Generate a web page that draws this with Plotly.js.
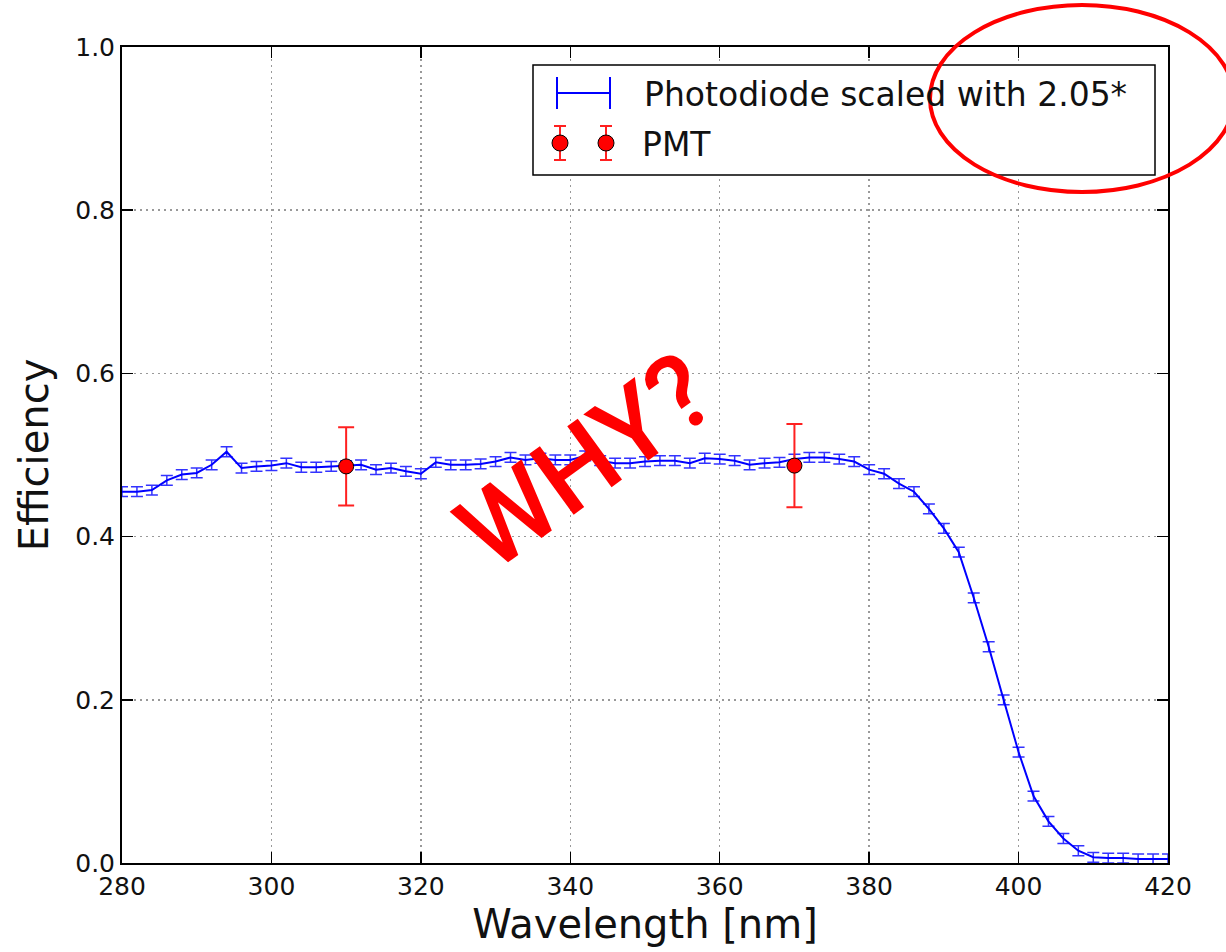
<!DOCTYPE html>
<html>
<head>
<meta charset="utf-8">
<script src="https://cdn.plot.ly/plotly-3.0.1.min.js"></script>
<style>html,body{margin:0;padding:0;background:#fff;}#chart{width:1226px;height:952px;}</style>
</head>
<body>
<div id="chart"></div>
<script>
// Photodiode (scaled with 2.05) efficiency vs wavelength
const wavelength = [280,282,284,286,288,290,292,294,296,298,300,302,304,306,308,310,312,314,316,318,
  320,322,324,326,328,330,332,334,336,338,340,342,344,346,348,350,352,354,356,358,
  360,362,364,366,368,370,372,374,376,378,380,382,384,386,388,390,392,394,396,398,
  400,402,404,406,408,410,412,414,416,418,420];
const photodiode = [0.455,0.455,0.457,0.469,0.476,0.478,0.488,0.504,0.484,0.486,0.487,0.490,0.485,0.485,0.486,0.487,0.488,0.482,0.484,0.480,
  0.477,0.491,0.488,0.488,0.489,0.492,0.497,0.494,0.496,0.494,0.494,0.499,0.493,0.490,0.490,0.492,0.493,0.493,0.490,0.496,
  0.495,0.493,0.488,0.490,0.491,0.495,0.497,0.497,0.495,0.492,0.482,0.477,0.465,0.455,0.434,0.410,0.381,0.325,0.265,0.200,
  0.136,0.082,0.051,0.030,0.015,0.007,0.006,0.006,0.005,0.005,0.005];
const photodiodeErr = 0.006;

// PMT measurements
const pmtWavelength = [310, 370];
const pmtEfficiency = [0.486, 0.487];
const pmtErr = [0.048, 0.051];

const xTicks = [280,300,320,340,360,380,400,420];
const yTicks = [0.0,0.2,0.4,0.6,0.8,1.0];

const legendLabels = ["Photodiode scaled with 2.05*", "PMT"];
const annotationText = "WHY?";

const traces = [
  {
    x: wavelength, y: photodiode, type: 'scatter', mode: 'lines',
    line: {color: '#0000ff', width: 2},
    error_y: {type: 'constant', value: photodiodeErr, color: '#3333ff', thickness: 1.5, width: 6},
    showlegend: false, hoverinfo: 'skip'
  },
  {
    x: pmtWavelength, y: pmtEfficiency, type: 'scatter', mode: 'markers',
    marker: {color: '#ff0000', size: 15, line: {color: '#000', width: 1}},
    error_y: {type: 'data', array: pmtErr, color: '#ff2020', thickness: 2, width: 8},
    showlegend: false, hoverinfo: 'skip'
  }
];

// pixel -> paper helpers for decorations (legend box etc.)
const L = 122, R = 58, T = 47, B = 89, W = 1226, H = 952;
const pw = W - L - R, ph = H - T - B;
const px = v => (v - L) / pw;
const py = v => (H - B - v) / ph;

const shapes = [
  // legend box
  {type: 'rect', xref: 'paper', yref: 'paper', x0: px(533), x1: px(1155), y0: py(175), y1: py(65),
   line: {color: '#000', width: 1.5}, fillcolor: 'rgba(255,255,255,1)', layer: 'above'},
  // photodiode legend symbol
  {type: 'line', xref: 'paper', yref: 'paper', x0: px(557), x1: px(610), y0: py(93), y1: py(93), line: {color: '#0000ff', width: 2}},
  {type: 'line', xref: 'paper', yref: 'paper', x0: px(557), x1: px(557), y0: py(109), y1: py(77), line: {color: '#0000ff', width: 2}},
  {type: 'line', xref: 'paper', yref: 'paper', x0: px(610), x1: px(610), y0: py(109), y1: py(77), line: {color: '#0000ff', width: 2}},
];
// PMT legend symbols
[560, 606].forEach(cx => {
  shapes.push({type: 'line', xref: 'paper', yref: 'paper', x0: px(cx), x1: px(cx), y0: py(160), y1: py(126), line: {color: '#ff2020', width: 2}});
  shapes.push({type: 'line', xref: 'paper', yref: 'paper', x0: px(cx-6), x1: px(cx+6), y0: py(126), y1: py(126), line: {color: '#ff2020', width: 2}});
  shapes.push({type: 'line', xref: 'paper', yref: 'paper', x0: px(cx-6), x1: px(cx+6), y0: py(160), y1: py(160), line: {color: '#ff2020', width: 2}});
  shapes.push({type: 'circle', xref: 'paper', yref: 'paper', x0: px(cx-8), x1: px(cx+8), y0: py(151), y1: py(135),
    fillcolor: '#ff0000', line: {color: '#000', width: 1}});
});
// red ellipse
shapes.push({type: 'circle', xref: 'paper', yref: 'paper', x0: px(930), x1: px(1234), y0: py(192), y1: py(5),
  line: {color: '#ff0000', width: 4}, fillcolor: 'rgba(0,0,0,0)', layer: 'above'});

const annotations = [
  {xref: 'paper', yref: 'paper', x: px(642), y: py(94), xanchor: 'left', yanchor: 'middle', showarrow: false,
   text: legendLabels[0], font: {family: 'DejaVu Sans', size: 33, color: '#111'}},
  {xref: 'paper', yref: 'paper', x: px(640), y: py(144), xanchor: 'left', yanchor: 'middle', showarrow: false,
   text: legendLabels[1], font: {family: 'DejaVu Sans', size: 33, color: '#111'}},
  {xref: 'paper', yref: 'paper', x: px(585), y: py(462), xanchor: 'center', yanchor: 'middle', showarrow: false,
   text: annotationText, textangle: -36, font: {family: 'Roboto', weight: 500, size: 106, color: '#ff0000'}}
];

const axisCommon = {
  showline: true, linecolor: '#000', linewidth: 2, mirror: 'ticks',
  ticks: 'inside', ticklen: 11, tickwidth: 1.5, tickcolor: '#000',
  showgrid: true, gridcolor: '#999', griddash: '2px,4px', gridwidth: 1.5,
  zeroline: false, tickfont: {family: 'DejaVu Sans', size: 25, color: '#111'}
};

const layout = {
  width: W, height: H,
  margin: {l: L, r: R, t: T, b: B},
  paper_bgcolor: '#fff', plot_bgcolor: '#fff',
  showlegend: false,
  xaxis: Object.assign({}, axisCommon, {
    range: [280, 420], tickvals: xTicks, ticktext: xTicks.map(String),
    title: {text: 'Wavelength [nm]', font: {family: 'DejaVu Sans', size: 40, color: '#111'}, standoff: 4}
  }),
  yaxis: Object.assign({}, axisCommon, {
    range: [0, 1], tickvals: yTicks, ticktext: yTicks.map(v => v.toFixed(1)),
    title: {text: 'Efficiency', font: {family: 'DejaVu Sans', size: 40, color: '#111'}, standoff: 14}
  }),
  shapes: shapes,
  annotations: annotations
};

Plotly.newPlot('chart', traces, layout, {staticPlot: true, displayModeBar: false});
</script>
</body>
</html>
